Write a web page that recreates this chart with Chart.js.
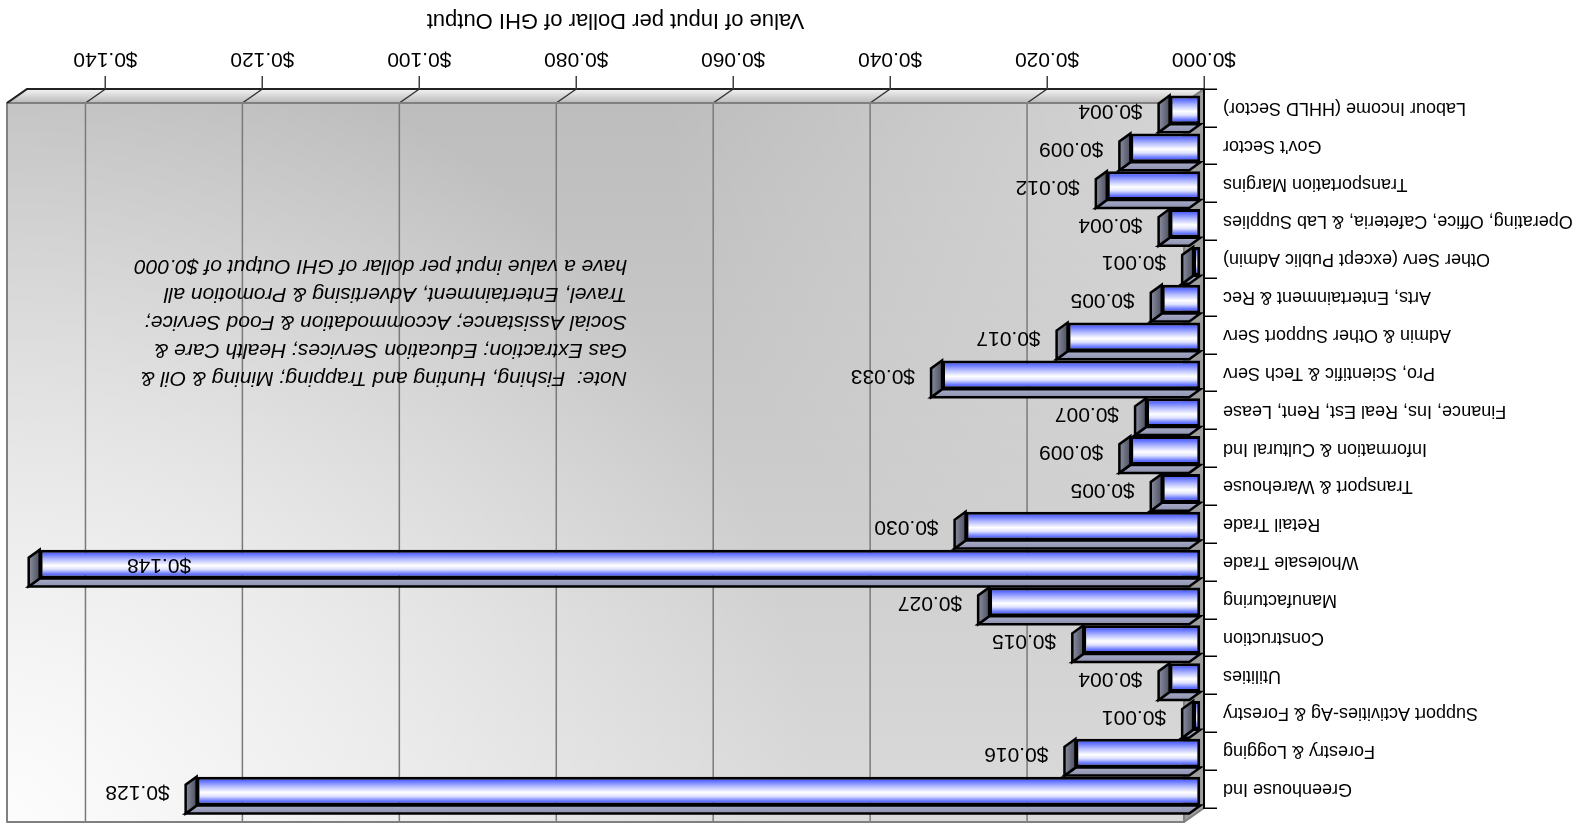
<!DOCTYPE html>
<html>
<head>
<meta charset="utf-8">
<script src="https://cdn.jsdelivr.net/npm/chart.js@4.4.1/dist/chart.umd.min.js"></script>
<style>
  html, body { margin: 0; padding: 0; background: #fff; overflow: hidden; }
  #marco { width: 1585px; height: 829px; transform: rotate(180deg); }
</style>
</head>
<body>
<div id="marco"><canvas id="grafico" width="1585" height="829"></canvas></div>
<script>
// sectores (de arriba hacia abajo)
const categorias = [
    "Greenhouse Ind",
    "Forestry & Logging",
    "Support Activities-Ag & Forestry",
    "Utilities",
    "Construction",
    "Manufacturing",
    "Wholesale Trade",
    "Retail Trade",
    "Transport & Warehouse",
    "Information & Cultural Ind",
    "Finance, Ins, Real Est, Rent, Lease",
    "Pro, Scientific & Tech Serv",
    "Admin & Other Support Serv",
    "Arts, Entertainment & Rec",
    "Other Serv (except Public Admin)",
    "Operating, Office, Cafeteria, & Lab Supplies",
    "Transportation Margins",
    "Gov't Sector",
    "Labour Income (HHLD Sector)"
];

const valores = [
    0.128, 0.016, 0.001, 0.004, 0.015, 0.027, 0.148, 0.030, 0.005, 0.009,
    0.007, 0.033, 0.017, 0.005, 0.001, 0.004, 0.012, 0.009, 0.004
];

const ticksValor = [0, 0.02, 0.04, 0.06, 0.08, 0.10, 0.12, 0.14];
const maxEje = 0.15;

const tituloEje = "Value of Input per Dollar of GHI Output";

const nota = [
    "Note:  Fishing, Hunting and Trapping; Mining & Oil &",
    "Gas Extraction; Education Services; Health Care &",
    "Social Assistance; Accommodation & Food Service;",
    "Travel, Entertainment, Advertising & Promotion all",
    "have a value input per dollar of GHI Output of $0.000"
];

const FUENTE = "'Liberation Sans', Arial, sans-serif";
Chart.defaults.font.family = FUENTE;

// profundidad del "3D"
const PROF = { x: 20, y: -14 };       // pared del fondo
const PROF_BARRA = { x: 11, y: -8 };  // grosor de cada barra
const DESPL = { x: 3, y: -2 };        // barras un poco hacia atrás

const dinero = v => "$" + v.toFixed(3);

// relleno de la cara frontal de cada barra
function rellenoBarra(c) {
    let chart = c.chart;
    let ys = chart.scales.y;
    if (!ys || c.dataIndex === undefined) return "#7f88ff";
    let centro = ys.getPixelForValue(c.dataIndex);
    let alto = (ys.height / categorias.length) * 0.76;
    if (!isFinite(centro) || !isFinite(alto) || alto <= 0) return "#7f88ff";
    let g = chart.ctx.createLinearGradient(0, centro - alto / 2, 0, centro + alto / 2);
    g.addColorStop(0, "#3444f0");
    g.addColorStop(0.15, "#6474ff");
    g.addColorStop(0.32, "#dfe2ff");
    g.addColorStop(0.45, "#ffffff");
    g.addColorStop(0.66, "#b4bbff");
    g.addColorStop(0.86, "#5d6dff");
    g.addColorStop(1, "#3444f0");
    return g;
}

function poligono(ctx, pts, relleno, borde, ancho) {
    ctx.beginPath();
    ctx.moveTo(pts[0][0], pts[0][1]);
    for (let i = 1; i < pts.length; i++) ctx.lineTo(pts[i][0], pts[i][1]);
    ctx.closePath();
    if (relleno) { ctx.fillStyle = relleno; ctx.fill(); }
    if (borde) { ctx.strokeStyle = borde; ctx.lineWidth = ancho; ctx.stroke(); }
}

const efecto3d = {
    id: "efecto3d",

    // paredes, piso y líneas de división
    beforeDraw(chart) {
        let ctx = chart.ctx;
        let { left: L, right: R, top: T, bottom: B } = chart.chartArea;
        let xs = chart.scales.x;
        let pared = [L + PROF.x, T + PROF.y, R - L, B - T];
        ctx.save();

        // pared del fondo
        let fondo = ctx.createLinearGradient(0, T + PROF.y, 0, B + PROF.y);
        fondo.addColorStop(0, "#dadada");
        fondo.addColorStop(1, "#bdbdbd");
        ctx.fillStyle = fondo;
        ctx.fillRect(...pared);
        let brillo = ctx.createRadialGradient(1585, 0, 0, 1585, 0, 820);
        brillo.addColorStop(0, "rgba(255,255,255,0.95)");
        brillo.addColorStop(0.45, "rgba(255,255,255,0.55)");
        brillo.addColorStop(1, "rgba(255,255,255,0)");
        ctx.fillStyle = brillo;
        ctx.fillRect(...pared);
        let brillo2 = ctx.createRadialGradient(L + PROF.x, B + PROF.y, 0, L + PROF.x, B + PROF.y, 520);
        brillo2.addColorStop(0, "rgba(255,255,255,0.35)");
        brillo2.addColorStop(1, "rgba(255,255,255,0)");
        ctx.fillStyle = brillo2;
        ctx.fillRect(...pared);

        // piso (abajo)
        let piso = ctx.createLinearGradient(0, B, 0, B + PROF.y);
        piso.addColorStop(0, "#f4f4f4");
        piso.addColorStop(1, "#b9b9b9");
        poligono(ctx, [[L, B], [R, B], [R + PROF.x, B + PROF.y], [L + PROF.x, B + PROF.y]], piso, null);

        // lateral izquierdo
        poligono(ctx, [[L, T], [L + PROF.x, T + PROF.y], [L + PROF.x, B + PROF.y], [L, B]], "#9e9e9e", null);

        // líneas de división en la pared y el piso
        ticksValor.forEach(v => {
            if (v === 0) return;
            let x = xs.getPixelForValue(v);
            ctx.strokeStyle = "#7a7a7a";
            ctx.lineWidth = 1.5;
            ctx.beginPath();
            ctx.moveTo(x + PROF.x, T + PROF.y);
            ctx.lineTo(x + PROF.x, B + PROF.y);
            ctx.stroke();
            ctx.strokeStyle = "#333";
            ctx.beginPath();
            ctx.moveTo(x + PROF.x, B + PROF.y);
            ctx.lineTo(x, B);
            ctx.stroke();
        });

        // contornos
        ctx.lineJoin = "round";
        poligono(ctx, [[L + PROF.x, T + PROF.y], [R + PROF.x, T + PROF.y], [R + PROF.x, B + PROF.y], [L + PROF.x, B + PROF.y]], null, "#808080", 2);
        poligono(ctx, [[L, T], [L + PROF.x, T + PROF.y], [L + PROF.x, B + PROF.y], [L, B]], null, "#808080", 2);
        poligono(ctx, [[L, B], [R, B], [R + PROF.x, B + PROF.y], [L + PROF.x, B + PROF.y]], null, "#808080", 2);
        ctx.strokeStyle = "#222";
        ctx.lineWidth = 2;
        ctx.beginPath();
        ctx.moveTo(L, B);
        ctx.lineTo(R, B);
        ctx.lineTo(R + PROF.x, B + PROF.y);
        ctx.stroke();
        ctx.restore();
    },

    beforeDatasetsDraw(chart) {
        chart.ctx.save();
        chart.ctx.translate(DESPL.x, DESPL.y);
    },

    // tapa y cara superior de cada barra, luego etiquetas
    afterDatasetsDraw(chart) {
        let ctx = chart.ctx;
        let meta = chart.getDatasetMeta(0);
        ctx.lineJoin = "miter";
        meta.data.forEach(bar => {
            let { x, y, base, height } = bar.getProps(["x", "y", "base", "height"], true);
            if (![x, y, base, height].every(isFinite)) return;
            let arriba = y - height / 2, abajo = y + height / 2;
            let dx = PROF_BARRA.x, dy = PROF_BARRA.y;

            let sup = ctx.createLinearGradient(0, arriba, 0, arriba + dy);
            sup.addColorStop(0, "#a9acc8");
            sup.addColorStop(1, "#8e91ad");
            poligono(ctx, [[base, arriba], [x, arriba], [x + dx, arriba + dy], [base + dx, arriba + dy]], sup, "#000", 2.5);

            let tapa = ctx.createLinearGradient(x, 0, x + dx, 0);
            tapa.addColorStop(0, "#4c505f");
            tapa.addColorStop(1, "#8a8ea0");
            poligono(ctx, [[x, arriba], [x + dx, arriba + dy], [x + dx, abajo + dy], [x, abajo]], tapa, "#000", 2.5);
        });
        ctx.restore();

        ctx.save();
        ctx.font = "21px " + FUENTE;
        ctx.fillStyle = "#000";
        ctx.textBaseline = "middle";
        ctx.textAlign = "left";
        meta.data.forEach((bar, i) => {
            let txt = dinero(valores[i]);
            let w = ctx.measureText(txt).width;
            let xt = bar.x + DESPL.x + PROF_BARRA.x + 16;
            if (xt + w > chart.chartArea.right) xt = chart.chartArea.right - 100 - w;
            ctx.fillText(txt, xt, bar.y + DESPL.y - 1);
        });
        ctx.restore();
    },

    // nota sobre la pared
    afterDraw(chart) {
        let ctx = chart.ctx;
        ctx.save();
        ctx.font = "italic 21px " + FUENTE;
        ctx.fillStyle = "#000";
        ctx.textBaseline = "middle";
        ctx.textAlign = "left";
        nota.forEach((linea, i) => ctx.fillText(linea, 958, 451 + i * 28));
        ctx.restore();
    }
};

new Chart(document.getElementById("grafico"), {
    type: "bar",
    data: {
        labels: categorias,
        datasets: [{
            data: valores,
            backgroundColor: rellenoBarra,
            borderColor: "#000",
            borderWidth: 3,
            borderSkipped: false,
            barPercentage: 0.76,
            categoryPercentage: 1,
            clip: false
        }]
    },
    options: {
        indexAxis: "y",
        responsive: false,
        animation: false,
        layout: { padding: { left: 0, right: 27, top: 21, bottom: 0 } },
        plugins: {
            legend: { display: false },
            tooltip: { enabled: false }
        },
        scales: {
            x: {
                min: 0,
                max: maxEje,
                position: "bottom",
                afterFit: s => { s.height = 89; },
                afterBuildTicks: s => { s.ticks = ticksValor.map(v => ({ value: v })); },
                grid: { drawOnChartArea: false, tickLength: 13, color: "#404040", lineWidth: 1.5 },
                border: { display: false },
                ticks: {
                    callback: v => dinero(v),
                    font: { size: 21 },
                    color: "#000",
                    padding: 5,
                    maxRotation: 0,
                    autoSkip: false
                },
                title: {
                    display: true,
                    text: tituloEje,
                    font: { size: 22 },
                    color: "#000",
                    padding: { top: 0, bottom: 7 }
                }
            },
            y: {
                afterFit: s => { s.width = 381; },
                grid: { drawOnChartArea: false, tickLength: 13, color: "#000", lineWidth: 1.5, offset: true },
                border: { display: true, color: "#000", width: 2 },
                ticks: { font: { size: 18 }, color: "#000", padding: 6, autoSkip: false }
            }
        }
    },
    plugins: [efecto3d]
});
</script>
</body>
</html>
